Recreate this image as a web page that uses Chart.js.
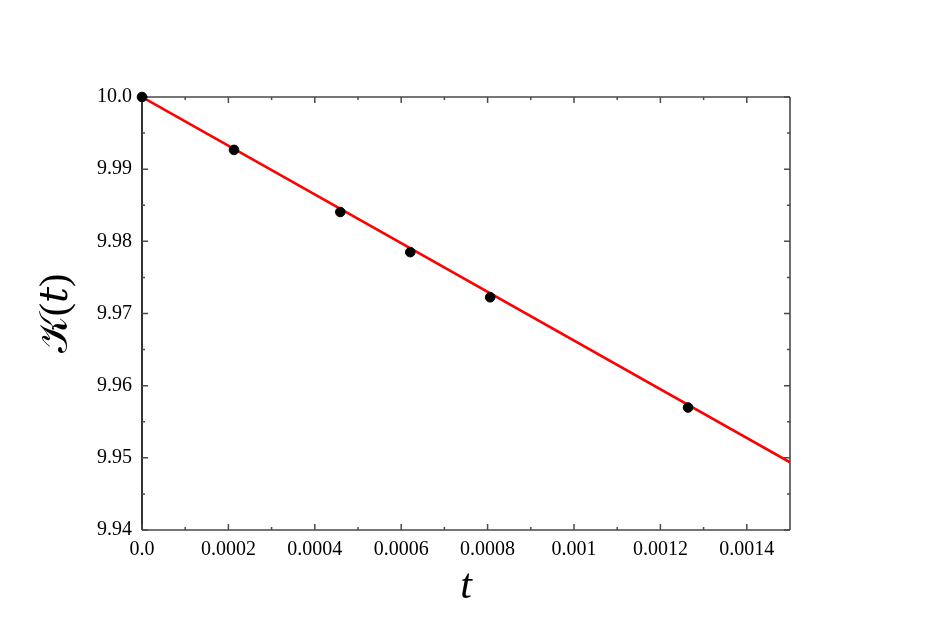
<!DOCTYPE html>
<html>
<head>
<meta charset="utf-8">
<script src="https://cdn.jsdelivr.net/npm/chart.js@4"></script>
<style>
  html, body { margin: 0; padding: 0; background: #fff; }
  #wrap { width: 934px; height: 626px; }
</style>
</head>
<body>
<div id="wrap"><canvas id="kChart" width="934" height="626"></canvas></div>
<script>
// datos
const pointT = [0.0, 0.000213, 0.000459, 0.000621, 0.000806, 0.001264];
const pointK = [10.0, 9.99267, 9.98406, 9.97850, 9.97225, 9.95697];
const lineT = [0.0, 0.0015];
const lineK = [10.0, 9.94938];
const xTicks = [0, 0.0002, 0.0004, 0.0006, 0.0008, 0.001, 0.0012, 0.0014];
const xTickLabels = ['0.0', '0.0002', '0.0004', '0.0006', '0.0008', '0.001', '0.0012', '0.0014'];
const yTicks = [9.94, 9.95, 9.96, 9.97, 9.98, 9.99, 10.0];
const yTickLabels = ['9.94', '9.95', '9.96', '9.97', '9.98', '9.99', '10.0'];
const xMinor = [0.0001, 0.0003, 0.0005, 0.0007, 0.0009, 0.0011, 0.0013];
const yMinor = [9.945, 9.955, 9.965, 9.975, 9.985, 9.995];

const serif = "'Liberation Serif', 'DejaVu Serif', serif";

// marco y marcas hacia dentro
const framePlugin = {
  id: 'frame',
  beforeDatasetsDraw(chart) {
    const { ctx, chartArea: a, scales } = chart;
    const x = scales.x, y = scales.y;
    ctx.save();
    ctx.lineWidth = 1.6;
    ctx.strokeStyle = '#4a4a4a';
    ctx.beginPath();
    ctx.moveTo(a.left, a.top); ctx.lineTo(a.right, a.top);
    ctx.moveTo(a.right, a.top); ctx.lineTo(a.right, a.bottom);
    ctx.moveTo(a.left, a.bottom); ctx.lineTo(a.right, a.bottom);
    ctx.stroke();
    ctx.strokeStyle = '#000';
    ctx.beginPath();
    ctx.moveTo(a.left, a.top); ctx.lineTo(a.left, a.bottom);
    ctx.stroke();

    ctx.strokeStyle = '#4a4a4a';
    ctx.lineWidth = 1.5;
    const tickX = (v, len) => {
      const px = x.getPixelForValue(v);
      ctx.beginPath();
      ctx.moveTo(px, a.bottom); ctx.lineTo(px, a.bottom - len);
      ctx.moveTo(px, a.top); ctx.lineTo(px, a.top + len);
      ctx.stroke();
    };
    const tickY = (v, len) => {
      const py = y.getPixelForValue(v);
      ctx.beginPath();
      ctx.moveTo(a.left, py); ctx.lineTo(a.left + len, py);
      ctx.moveTo(a.right, py); ctx.lineTo(a.right - len, py);
      ctx.stroke();
    };
    xTicks.forEach(v => tickX(v, 6));
    xMinor.forEach(v => tickX(v, 3));
    yTicks.forEach(v => tickY(v, 6));
    yMinor.forEach(v => tickY(v, 3));
    ctx.restore();
  }
};

new Chart(document.getElementById('kChart').getContext('2d'), {
  type: 'scatter',
  data: {
    datasets: [
      {
        type: 'line',
        data: lineT.map((t, i) => ({ x: t, y: lineK[i] })),
        borderColor: '#ff0000',
        borderWidth: 2.5,
        pointRadius: 0,
        fill: false,
        order: 2,
      },
      {
        data: pointT.map((t, i) => ({ x: t, y: pointK[i] })),
        backgroundColor: '#000',
        borderColor: '#000',
        pointRadius: 4.8,
        clip: false,
        order: 1,
      },
    ],
  },
  options: {
    responsive: false,
    animation: false,
    layout: { padding: { left: 0, top: 97, right: 144, bottom: 0 } },
    plugins: { legend: { display: false }, tooltip: { enabled: false } },
    scales: {
      x: {
        type: 'linear',
        min: 0,
        max: 0.0015,
        afterBuildTicks: s => { s.ticks = xTicks.map(v => ({ value: v })); },
        afterFit: s => { s.height = 96; },
        grid: { display: false, drawTicks: false },
        border: { display: false },
        ticks: {
          padding: 8,
          color: '#000',
          font: { family: serif, size: 20 },
          callback: (v, i) => xTickLabels[i],
        },
        title: {
          display: true,
          text: 't',
          color: '#000',
          font: { family: serif, size: 42, style: 'italic' },
          padding: { top: 0, bottom: 14 },
        },
      },
      y: {
        type: 'linear',
        min: 9.94,
        max: 10.0,
        afterBuildTicks: s => { s.ticks = yTicks.map(v => ({ value: v })); },
        afterFit: s => { s.width = 142; },
        grid: { display: false, drawTicks: false },
        border: { display: false },
        ticks: {
          padding: 10,
          color: '#000',
          font: { family: serif, size: 20 },
          callback: (v, i) => yTickLabels[i],
        },
        title: {
          display: true,
          text: '𝒦(𝑡)',
          color: '#000',
          font: { family: serif, size: 40 },
          padding: { top: 32, bottom: 0 },
        },
      },
    },
  },
  plugins: [framePlugin],
});
</script>
</body>
</html>
